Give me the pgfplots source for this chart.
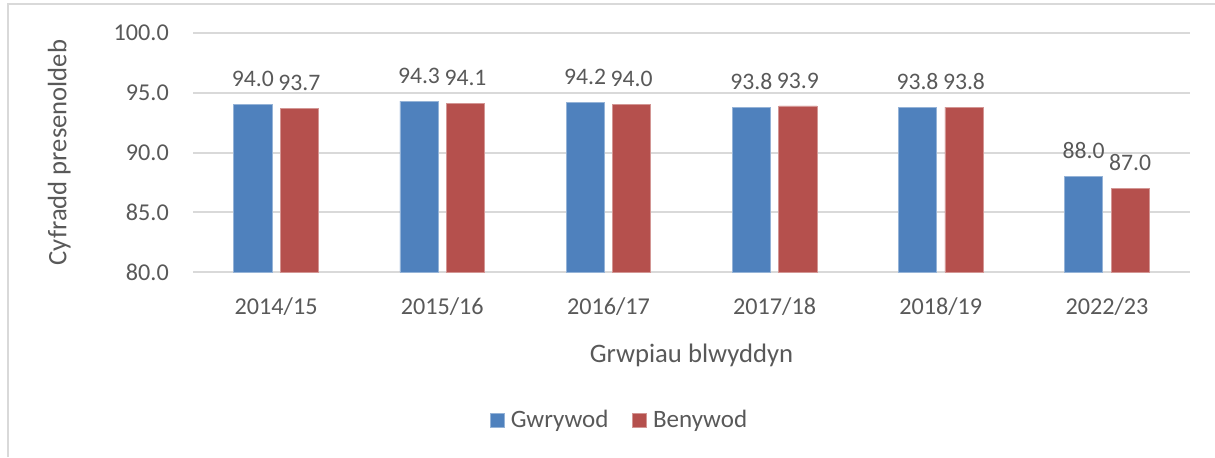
\documentclass[border=0pt]{standalone}
\usepackage{pgfplots}
\pgfplotsset{compat=1.18}
\usepackage{fontspec}
\setmainfont{Carlito}
\definecolor{cblue}{HTML}{4F81BD}
\definecolor{cred}{HTML}{B5504D}
\definecolor{ctext}{HTML}{595959}
\definecolor{cgrid}{HTML}{D9D9D9}
\begin{document}
\begin{tikzpicture}[x=0.6pt,y=0.6pt]
\useasboundingbox (-193,-185) rectangle (1022,272);
\draw[cgrid,line width=1.2pt] (-185,-185) -- (-185,268) -- (1022,268);
\begin{axis}[
  at={(0,0)}, anchor=south west,
  scale only axis, width=598.2pt, height=143.4pt,
  xmin=-0.5, xmax=5.5, ymin=80, ymax=100,
  ytick={80,85,...,100},
  xtick=data,
  xticklabels={2014/15,2015/16,2016/17,2017/18,2018/19,2022/23},
  yticklabel style={/pgf/number format/fixed,/pgf/number format/fixed zerofill,/pgf/number format/precision=1,xshift=-11pt},
  /pgf/number format/assume math mode=true,
  ymajorgrids, grid style={cgrid,line width=1.2pt},
  axis line style={draw=none},
  axis x line*=bottom,
  x axis line style={cgrid,line width=1.2pt},
  major tick length=0pt,
  tick label style={font=\fontsize{14.5}{16}\selectfont,text=ctext},
  xticklabel style={yshift=-12pt},
  xlabel={Grwpiau blwyddyn},
  ylabel={Cyfradd presenoldeb},
  label style={font=\fontsize{16}{18}\selectfont,text=ctext},
  xlabel style={yshift=-10pt},
  ylabel style={yshift=19pt},
  ybar, bar width=0.229,
  nodes near coords,
  nodes near coords style={font=\fontsize{14.2}{16}\selectfont,text=ctext,yshift=7pt,/pgf/number format/fixed,/pgf/number format/fixed zerofill,/pgf/number format/precision=1},
  legend style={at={(0.43,-0.62)},anchor=center,draw=none,legend columns=2,
    font=\fontsize{15}{17}\selectfont,text=ctext,
    nodes={inner xsep=4pt},
    /tikz/every even column/.append style={column sep=10pt}},
  legend image code/.code={\fill[#1] (0pt,-4.4pt) rectangle (8.4pt,4.4pt);},
]
\addplot[fill=cblue,draw=cblue!60!white,bar shift=-0.14] coordinates {(0,94.0) (1,94.3) (2,94.2) (3,93.8) (4,93.8) (5,88.0)};
\addplot[fill=cred,draw=cred!60!white,bar shift=0.14] coordinates {(0,93.7) (1,94.1) (2,94.0) (3,93.9) (4,93.8) (5,87.0)};
\legend{Gwrywod,Benywod}
\end{axis}
\end{tikzpicture}
\end{document}
